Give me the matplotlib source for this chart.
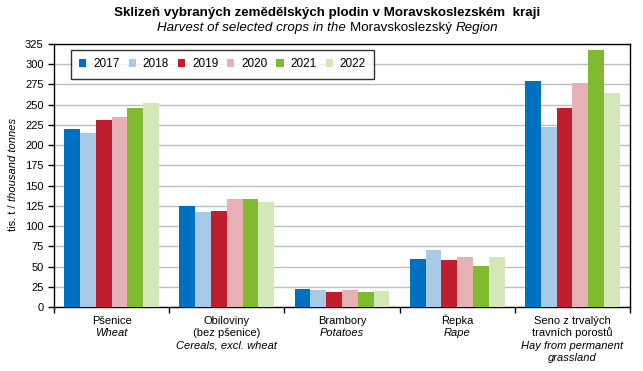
import numpy as np
import matplotlib.pyplot as plt

plt.rcParams['font.family'] = ['Liberation Sans', 'DejaVu Sans']

# data (thousand tonnes)
years = ["2017", "2018", "2019", "2020", "2021", "2022"]
colors = ["#0070C0", "#A7CBE7", "#BE1E2D", "#E6B0B4", "#7FBA2F", "#D3E7B9"]
crops_cz = ["Pšenice", "Obiloviny\n(bez pšenice)", "Brambory", "Řepka", "Seno z trvalých\ntravních porostů"]
crops_en = ["Wheat", "Cereals, excl. wheat", "Potatoes", "Rape", "Hay from permanent\ngrassland"]

v2017 = [220, 125, 22.5, 59, 279]
v2018 = [215, 117.5, 20.5, 70.5, 222]
v2019 = [231, 119, 19, 58, 246]
v2020 = [235, 133.5, 21.5, 62, 277]
v2021 = [246, 134, 19, 51, 318]
v2022 = [252, 130, 20, 62, 265]
series = [v2017, v2018, v2019, v2020, v2021, v2022]

fig = plt.figure(figsize=(6.43, 3.71), dpi=100)
ax = fig.add_axes([54 / 643, 1 - 307 / 371, 576 / 643, 263 / 371])

x = np.arange(len(crops_cz))
w = 0.137
for i, vals in enumerate(series):
    ax.bar(x + (i - 2.5) * w, vals, w, color=colors[i], label=years[i], zorder=3)

ax.set_xlim(-0.5, len(crops_cz) - 0.5)
ax.set_ylim(0, 325)
ax.set_yticks(np.arange(0, 326, 25))
ax.yaxis.grid(True, color="#BEBEBE", linewidth=1, zorder=0)
ax.set_xticks(np.arange(-0.5, len(crops_cz), 1))
ax.set_xticklabels([])
ax.tick_params(axis="both", direction="out", length=4, width=1, labelsize=8, colors="black")
for s in ax.spines.values():
    s.set_color("black")
    s.set_linewidth(1)

# category labels: czech normal, english italic, one line at a time
for i in range(len(crops_cz)):
    lines = [(s, "normal") for s in crops_cz[i].split("\n")]
    lines += [(s, "italic") for s in crops_en[i].split("\n")]
    for k, (s, st) in enumerate(lines):
        ax.annotate(s, xy=(x[i], 0), xycoords=("data", "axes fraction"),
                    xytext=(0, -(12.3 + 8.9 * k)), textcoords="offset points",
                    ha="center", va="baseline", fontsize=8, style=st)

# y label, mixed styles
yl = fig.text(13 / 643, 1 - 216 / 371, "tis. t / ", rotation=90, fontsize=8, ha="center", va="center")
ax.annotate("thousand tonnes", xy=(0.5, 1), xycoords=yl, ha="center", va="bottom",
            rotation=90, fontsize=8, style="italic", annotation_clip=False)

# titles
fig.text(0.509, 1 - 13 / 371, "Sklizeň vybraných zemědělských plodin v Moravskoslezském  kraji",
         ha="center", va="center", fontsize=9.6, fontweight="bold")
p1 = fig.text(157 / 643, 1 - 28 / 371, "Harvest of selected crops in the ", ha="left", va="center",
              fontsize=9.6, style="italic")
p2 = ax.annotate("Moravskoslezský ", xy=(1, 0), xycoords=p1, ha="left", va="bottom", fontsize=9.6,
                 annotation_clip=False)
ax.annotate("Region", xy=(1, 0), xycoords=p2, ha="left", va="bottom", fontsize=9.6,
            style="italic", annotation_clip=False)

leg = ax.legend(loc="upper left", bbox_to_anchor=(17 / 576, 1 - 6 / 263), ncol=6, fontsize=8.5,
                frameon=True, fancybox=False, handlelength=0.6, handleheight=0.6,
                handletextpad=0.6, columnspacing=0.75, borderpad=0.7, borderaxespad=0)
leg.get_frame().set_edgecolor("black")
leg.get_frame().set_linewidth(1)

fig.savefig("out.png", dpi=100)
